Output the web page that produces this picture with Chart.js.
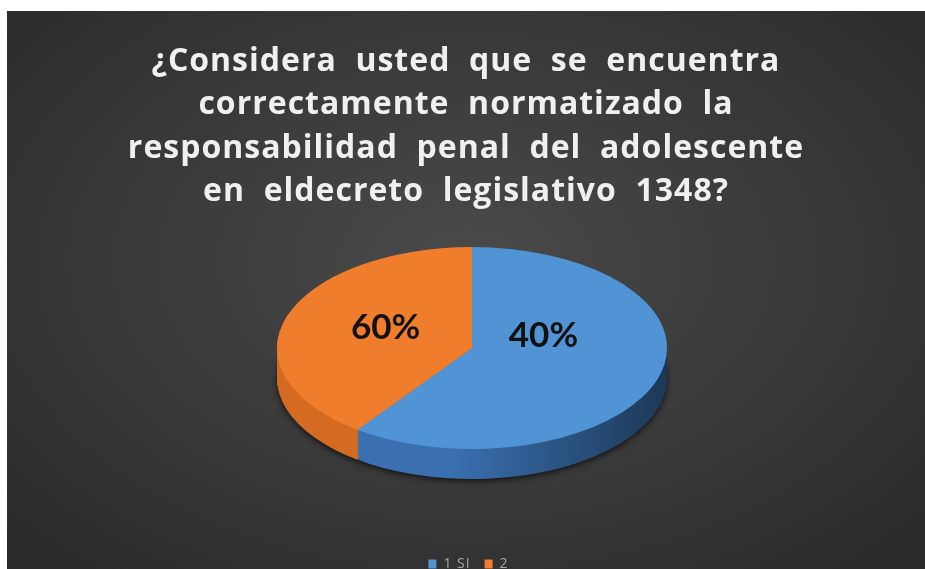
<!DOCTYPE html>
<html>
<head>
<meta charset="utf-8">
<script src="https://cdn.jsdelivr.net/npm/chart.js@4"></script>
<style>
    html, body { margin: 0; padding: 0; background: #fff; }
    #frame {
        position: absolute; left: 7px; top: 11px; width: 918px; height: 558px;
        background: radial-gradient(ellipse 70% 75% at 50% 45%, #4a4a4a 0%, #3a3a3a 50%, #2a2a2a 100%);
    }
</style>
</head>
<body>
<div id="frame"><canvas id="pie" width="918" height="558"></canvas></div>
<script>
const categories = ['1 SI', '2'];
const values = [60, 40];
const sliceLabels = ['40%', '60%'];
const titleLines = [
    '¿Considera  usted  que  se  encuentra',
    'correctamente  normatizado  la',
    'responsabilidad  penal  del  adolescente',
    'en  eldecreto  legislativo  1348?'
];

const topColors = ['#5194d5', '#ef7d2c'];
const sideColors = [['#3a70b0', '#1c3856'], ['#d36c22', '#b85a18']];

// squashed, thick pie drawn from the library's arc elements
const tilt = { cx: 465, cy: 337, rx: 195, ry: 101, depth: 30 };

const pie3d = {
    id: 'pie3d',
    beforeDraw(chart) {
        chart.ctx.letterSpacing = '1px';
    },
    beforeDatasetsDraw(chart) {
        const ctx = chart.ctx;
        ctx.letterSpacing = '0px';
        const arcs = chart.getDatasetMeta(0).data;
        const { x, y, outerRadius: R } = arcs[0];
        const place = (d) => {
            ctx.translate(tilt.cx, tilt.cy + d);
            ctx.scale(tilt.rx / R, tilt.ry / R);
            ctx.translate(-x, -y);
        };
        const sides = sideColors.map(c => {
            const g = ctx.createLinearGradient(x - R, 0, x + R, 0);
            g.addColorStop(0, c[0]);
            g.addColorStop(0.45, c[0]);
            g.addColorStop(1, c[1]);
            return g;
        });
        for (let d = tilt.depth; d >= 1; d--) {
            arcs.forEach((arc, i) => {
                ctx.save();
                if (d === tilt.depth) {
                    ctx.shadowColor = 'rgba(0,0,0,0.7)';
                    ctx.shadowBlur = 6;
                    ctx.shadowOffsetY = 2;
                }
                place(d);
                const o = arc.options;
                arc.options = Object.assign({}, o, { backgroundColor: sides[i], borderWidth: 0 });
                arc.draw(ctx);
                arc.options = o;
                ctx.restore();
            });
        }
        arcs.forEach((arc) => {
            ctx.save();
            place(0);
            arc.draw(ctx);
            ctx.restore();
        });
        // percentage labels as printed on the picture
        ctx.save();
        ctx.font = 'bold 35px Lato';
        ctx.fillStyle = '#111';
        ctx.textAlign = 'center';
        ctx.textBaseline = 'middle';
        const shift = [[-12, -26], [-3, -6]];
        arcs.forEach((arc, i) => {
            const mid = (arc.startAngle + arc.endAngle) / 2;
            const lx = tilt.cx + Math.cos(mid) * tilt.rx * 0.45 + shift[i][0];
            const ly = tilt.cy + Math.sin(mid) * tilt.ry * 0.45 + shift[i][1];
            ctx.fillText(sliceLabels[i], lx, ly);
        });
        ctx.restore();
        return false;
    }
};

new Chart(document.getElementById('pie'), {
    type: 'pie',
    data: {
        labels: categories,
        datasets: [{
            data: values,
            backgroundColor: topColors,
            borderWidth: 0
        }]
    },
    options: {
        responsive: false,
        animation: false,
        events: [],
        layout: { padding: { bottom: -12 } },
        plugins: {
            title: {
                display: true,
                text: titleLines,
                color: '#f0f0f0',
                font: { family: 'Open Sans', size: 32, weight: 'bold', lineHeight: 1.36 },
                padding: { top: 29, bottom: 10 }
            },
            legend: {
                position: 'bottom',
                labels: {
                    color: '#a8a8a8',
                    font: { family: 'Open Sans', size: 14 },
                    boxWidth: 8,
                    boxHeight: 9,
                    padding: 14
                }
            },
            tooltip: { enabled: false }
        }
    },
    plugins: [pie3d]
});
</script>
</body>
</html>
